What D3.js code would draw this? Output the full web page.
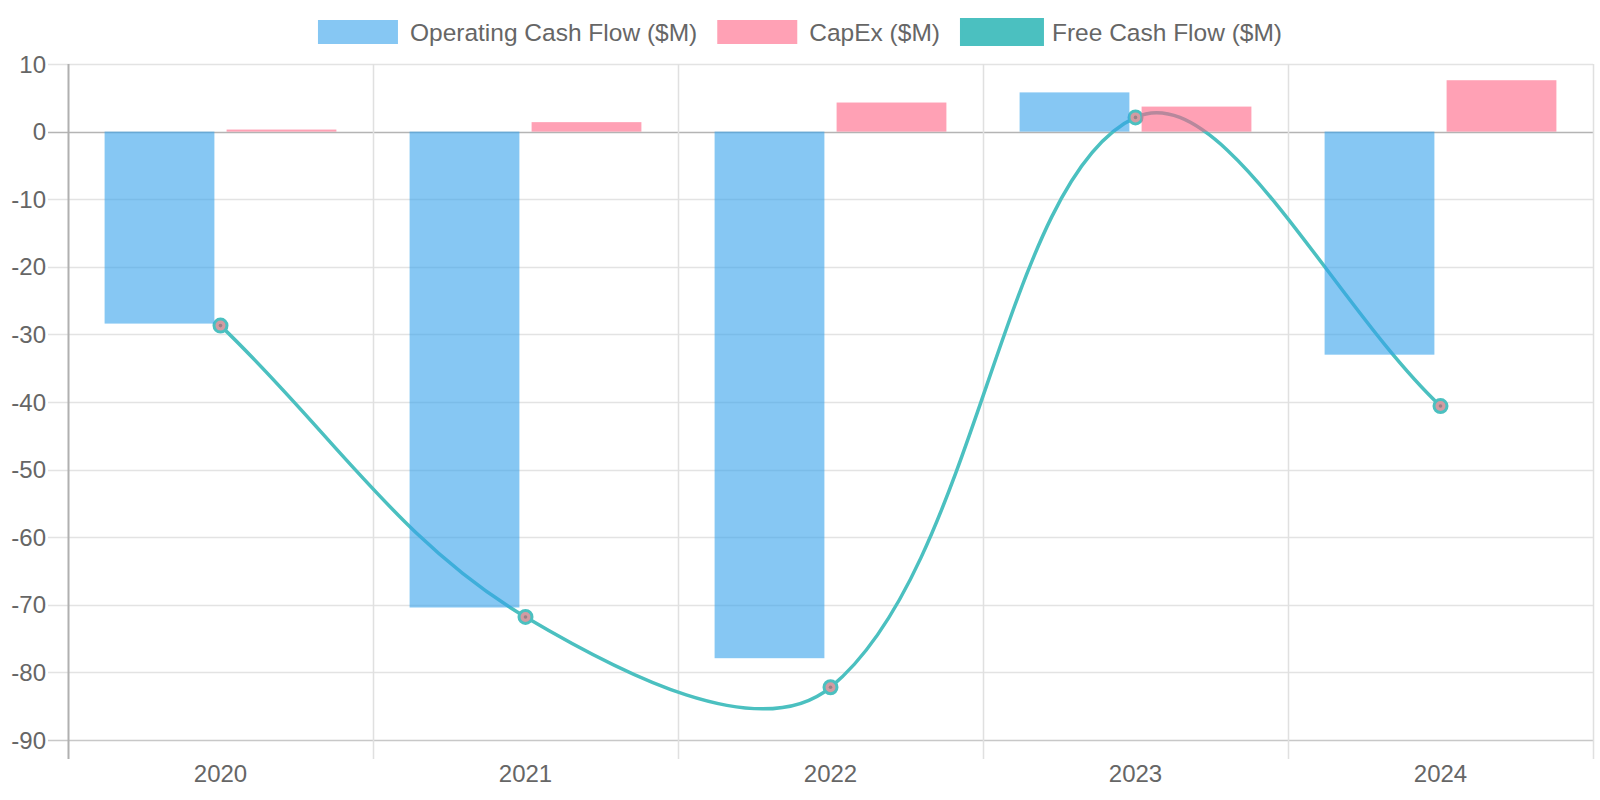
<!DOCTYPE html>
<html><head><meta charset="utf-8">
<script src="https://cdn.jsdelivr.net/npm/d3@7"></script>
<style>body{margin:0;background:#fff}svg{display:block;font-family:"Liberation Sans",Arial,sans-serif}</style>
</head><body><svg id="c" width="1600" height="800"></svg>
<script>
const years = ["2020","2021","2022","2023","2024"];
const operatingCashFlow = [-28.4, -70.4, -77.9, 5.8, -33.0];
const capEx = [0.3, 1.4, 4.3, 3.7, 7.6];
const freeCashFlow = [-28.7, -71.8, -82.2, 2.1, -40.6];
const yTicks = [10, 0, -10, -20, -30, -40, -50, -60, -70, -80, -90];
const seriesNames = ["Operating Cash Flow ($M)", "CapEx ($M)", "Free Cash Flow ($M)"];

const svg = d3.select("#c");
const L = 68, R = 1593, T = 64, B = 740;
const x = d3.scaleBand().domain(years).range([L, R]);
const y = d3.scaleLinear().domain([-90, 10]).range([B, T]);
const inner = d3.scaleBand().domain(["ocf","capex"]).range([0.1*x.bandwidth(), 0.9*x.bandwidth()]);
const bw = inner.bandwidth()*0.9;

// horizontal grid
svg.append("g").selectAll("line").data(yTicks).join("line")
  .attr("x1", 48).attr("x2", R).attr("y1", d=>Math.round(y(d))+0.5).attr("y2", d=>Math.round(y(d))+0.5)
  .attr("stroke", d=> d===0 ? "#b4b4b4" : (d===-90 ? "#c8c8c8" : "#e3e3e3")).attr("stroke-width", 1.5);
// vertical grid
const vx = years.map(d=>x(d)).concat([R]);
svg.append("g").selectAll("line").data(vx).join("line")
  .attr("x1", d=>Math.round(d)+0.5).attr("x2", d=>Math.round(d)+0.5).attr("y1", T).attr("y2", 759)
  .attr("stroke", (d,i)=> i===0 ? "#b0b0b0" : "#e0e0e0").attr("stroke-width", (d,i)=> i===0?2:1.5);

// y labels
svg.append("g").selectAll("text").data(yTicks).join("text")
  .attr("x", 46).attr("y", d=>y(d)).attr("dy","0.36em").attr("text-anchor","end")
  .attr("font-size", 24).attr("fill","#666").text(d=>d);
// x labels
svg.append("g").selectAll("text").data(years).join("text")
  .attr("x", d=>x(d)+x.bandwidth()/2).attr("y", 773).attr("dy","0.36em").attr("text-anchor","middle")
  .attr("font-size", 24).attr("fill","#666").text(d=>d);

// line (Chart.js style spline)
const pts = freeCashFlow.map((v,i)=>({x: x(years[i])+x.bandwidth()/2, y: y(v)}));
const t = 0.36;
const cps = pts.map((p,i)=>{
  const prev = pts[i-1]||p, next = pts[i+1]||p;
  const d01 = Math.hypot(p.x-prev.x, p.y-prev.y), d12 = Math.hypot(next.x-p.x, next.y-p.y);
  let s01 = d01/(d01+d12), s12 = d12/(d01+d12);
  if (isNaN(s01)) s01 = 0; if (isNaN(s12)) s12 = 0;
  const fa = t*s01, fb = t*s12;
  return {px: p.x - fa*(next.x-prev.x), py: p.y - fa*(next.y-prev.y), nx: p.x + fb*(next.x-prev.x), ny: p.y + fb*(next.y-prev.y)};
});
const path = d3.path();
path.moveTo(pts[0].x, pts[0].y);
for (let i=1;i<pts.length;i++){
  path.bezierCurveTo(cps[i-1].nx, cps[i-1].ny, cps[i].px, cps[i].py, pts[i].x, pts[i].y);
}
svg.append("path").attr("d", path.toString()).attr("fill","none").attr("stroke","rgb(75,192,192)").attr("stroke-width",3.5);
svg.append("g").selectAll("circle").data(pts).join("circle")
  .attr("cx", d=>d.x).attr("cy", d=>d.y).attr("r", 6.5)
  .attr("fill","rgb(210,155,162)").attr("stroke","rgb(75,192,192)").attr("stroke-width",3);
svg.append("g").selectAll("circle").data(pts).join("circle")
  .attr("cx", d=>d.x).attr("cy", d=>d.y).attr("r", 1.8).attr("fill","rgb(150,130,135)");

// bars
const barG = svg.append("g");
barG.selectAll(".ocf").data(operatingCashFlow).join("rect")
  .attr("x", (d,i)=> x(years[i]) + inner("ocf") + (inner.bandwidth()-bw)/2)
  .attr("width", bw)
  .attr("y", d=> y(Math.max(0,d))).attr("height", d=> Math.abs(y(d)-y(0)))
  .attr("fill","rgba(54,162,235,0.6)");
barG.selectAll(".cap").data(capEx).join("rect")
  .attr("x", (d,i)=> x(years[i]) + inner("capex") + (inner.bandwidth()-bw)/2)
  .attr("width", bw)
  .attr("y", d=> y(Math.max(0,d))).attr("height", d=> Math.abs(y(d)-y(0)))
  .attr("fill","rgba(255,99,132,0.6)");

// legend
const legFills = ["rgba(54,162,235,0.6)", "rgba(255,99,132,0.6)", "rgb(75,192,192)"];
const legStrokes = [null, null, "rgb(75,192,192)"];
const lg = svg.append("g");
const items = seriesNames.map((n,i)=>{
  const g = lg.append("g");
  const txt = g.append("text").attr("x", 92).attr("y", 32).attr("dy","0.36em").attr("font-size",24.5).attr("fill","#666").text(n);
  const w = 92 + txt.node().getComputedTextLength();
  if (legStrokes[i]) {
    g.append("rect").attr("x", 1.5).attr("y", 19.5).attr("width", 81).attr("height", 25)
      .attr("fill", legFills[i]).attr("stroke", legStrokes[i]).attr("stroke-width", 3);
  } else {
    g.append("rect").attr("x", 0).attr("y", 20).attr("width", 80).attr("height", 24).attr("fill", legFills[i]);
  }
  return {g, w};
});
const gap = 20;
const total = d3.sum(items, d=>d.w) + gap*(items.length-1);
let cx = 800 - total/2;
items.forEach(it=>{ it.g.attr("transform", `translate(${cx},0)`); cx += it.w + gap; });
</script></body></html>
